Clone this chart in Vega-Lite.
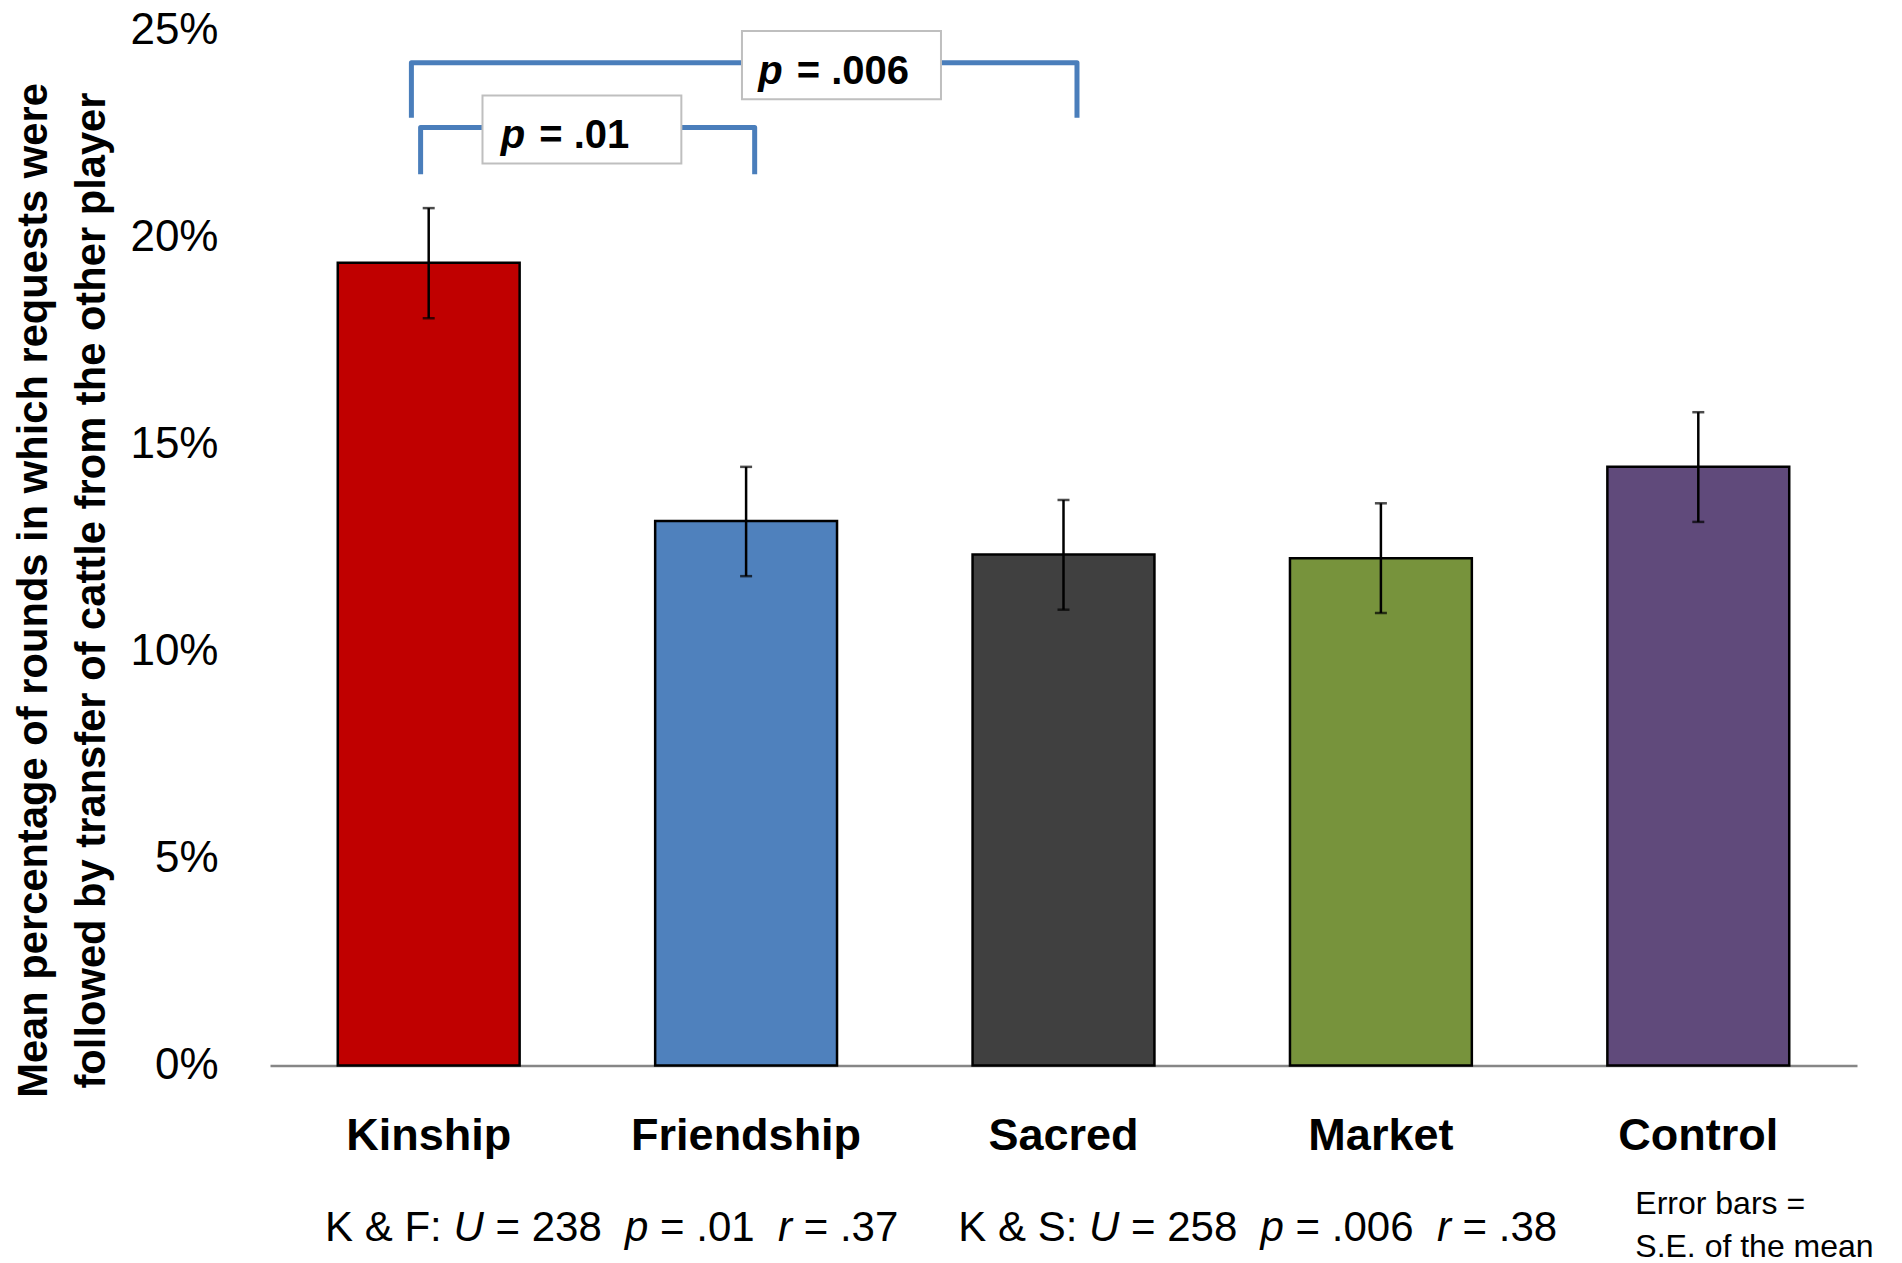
{
  "$schema": "https://vega.github.io/schema/vega-lite/v6.json",
  "width": 1587,
  "height": 1035,
  "autosize": "none",
  "padding": {"left": 270, "top": 30.5, "right": 45, "bottom": 197.5},
  "background": "white",
  "config": {"view": {"stroke": null}},
  "datasets": {
    "bars": [
      {"condition": "Kinship", "mean": 19.39, "lo": 18.05, "hi": 20.71},
      {"condition": "Friendship", "mean": 13.15, "lo": 11.82, "hi": 14.46},
      {"condition": "Sacred", "mean": 12.34, "lo": 11.01, "hi": 13.66},
      {"condition": "Market", "mean": 12.25, "lo": 10.93, "hi": 13.58},
      {"condition": "Control", "mean": 14.46, "lo": 13.13, "hi": 15.78}
    ],
    "brackets": [
      {"pair": "K-S", "step": 1, "pos": 0.4455, "pct": 22.89},
      {"pair": "K-S", "step": 2, "pos": 0.4455, "pct": 24.22},
      {"pair": "K-S", "step": 3, "pos": 2.5425, "pct": 24.22},
      {"pair": "K-S", "step": 4, "pos": 2.5425, "pct": 22.89},
      {"pair": "K-F", "step": 1, "pos": 0.4745, "pct": 21.53},
      {"pair": "K-F", "step": 2, "pos": 0.4745, "pct": 22.66},
      {"pair": "K-F", "step": 3, "pos": 1.527, "pct": 22.66},
      {"pair": "K-F", "step": 4, "pos": 1.527, "pct": 21.53}
    ],
    "boxes": [
      {"pair": "K-F", "pos": 0.6695, "pos2": 1.296, "pct": 21.79, "pct2": 23.43},
      {"pair": "K-S", "pos": 1.487, "pos2": 2.114, "pct": 23.34, "pct2": 24.99}
    ],
    "boxItalic": [
      {"text": "p", "pos": 0.727, "pct": 22.15},
      {"text": "p", "pos": 1.5385, "pct": 23.70}
    ],
    "boxPlain": [
      {"text": "= .01", "pos": 0.848, "pct": 22.15},
      {"text": "= .006", "pos": 1.6594, "pct": 23.70}
    ],
    "statsPlain": [
      {"text": "K & F:", "pos": 0.1736, "pct": -4.24},
      {"text": "= 238", "pos": 0.7105, "pct": -4.24},
      {"text": "= .01", "pos": 1.229, "pct": -4.24},
      {"text": "= .37", "pos": 1.6815, "pct": -4.24},
      {"text": "K & S:", "pos": 2.1686, "pct": -4.24},
      {"text": "= 258", "pos": 2.7127, "pct": -4.24},
      {"text": "= .006", "pos": 3.2313, "pct": -4.24},
      {"text": "= .38", "pos": 3.7574, "pct": -4.24}
    ],
    "statsItalic": [
      {"text": "U", "pos": 0.5781, "pct": -4.24},
      {"text": "p", "pos": 1.1188, "pct": -4.24},
      {"text": "r", "pos": 1.6005, "pct": -4.24},
      {"text": "U", "pos": 2.5803, "pct": -4.24},
      {"text": "p", "pos": 3.121, "pct": -4.24},
      {"text": "r", "pos": 3.6765, "pct": -4.24}
    ],
    "note": [
      {"text": "Error bars =", "pos": 4.3015, "pct": -3.58},
      {"text": "S.E. of the mean", "pos": 4.3015, "pct": -4.62}
    ]
  },
  "layer": [
    {
      "data": {"name": "bars"},
      "encoding": {
        "x": {
          "field": "condition", "type": "nominal", "sort": null,
          "scale": {"paddingInner": 0.427, "paddingOuter": 0.2135},
          "axis": {
            "title": null, "labelAngle": 0, "ticks": false, "tickSize": 0,
            "domainColor": "#868686", "domainWidth": 2.5,
            "labelFont": "Liberation Sans", "labelFontWeight": "bold",
            "labelFontSize": 45, "labelColor": "black", "labelPadding": 48,
            "labelLimit": 0
          }
        }
      },
      "layer": [
        {
          "mark": {"type": "bar", "stroke": "black", "strokeWidth": 2.5},
          "encoding": {
            "y": {
              "field": "mean", "type": "quantitative",
              "scale": {"domain": [0, 25], "nice": false},
              "axis": {
                "values": [0, 5, 10, 15, 20, 25],
                "labelExpr": "datum.value + '%'",
                "grid": false, "domain": false, "ticks": false, "tickSize": 0,
                "labelFont": "Liberation Sans", "labelFontSize": 44,
                "labelColor": "black", "labelPadding": 52,
                "title": ["Mean percentage of rounds in which requests were", "followed by transfer of cattle from the other player"],
                "titleFont": "Liberation Sans", "titleFontWeight": "bold",
                "titleFontSize": 41.7, "titleColor": "black", "titleLineHeight": 58,
                "titleAngle": -90, "titleAlign": "center", "titleBaseline": "alphabetic",
                "titleX": -224, "titleY": 559.5
              }
            },
            "color": {
              "field": "condition", "type": "nominal",
              "scale": {
                "domain": ["Kinship", "Friendship", "Sacred", "Market", "Control"],
                "range": ["#C00000", "#4F81BD", "#404040", "#77933C", "#604A7B"]
              },
              "legend": null
            }
          }
        },
        {
          "mark": {"type": "rule", "color": "black", "strokeWidth": 2.5},
          "encoding": {
            "y": {"field": "lo", "type": "quantitative"},
            "y2": {"field": "hi"}
          }
        },
        {
          "mark": {"type": "tick", "color": "black", "size": 12, "thickness": 2.5},
          "encoding": {
            "y": {"field": "lo", "type": "quantitative"}
          }
        },
        {
          "mark": {"type": "tick", "color": "black", "size": 12, "thickness": 2.5},
          "encoding": {
            "y": {"field": "hi", "type": "quantitative"}
          }
        }
      ]
    },
    {
      "encoding": {
        "x": {"field": "pos", "type": "quantitative", "scale": {"domain": [0, 5], "nice": false, "zero": false}, "axis": null},
        "y": {"field": "pct", "type": "quantitative"}
      },
      "layer": [
        {
          "data": {"name": "brackets"},
          "mark": {"type": "line", "color": "#4A7EBB", "strokeWidth": 5, "strokeJoin": "round", "strokeCap": "butt"},
          "encoding": {
            "detail": {"field": "pair"},
            "order": {"field": "step", "type": "quantitative"}
          }
        },
        {
          "data": {"name": "boxes"},
          "mark": {"type": "rect", "fill": "white", "stroke": "#BFBFBF", "strokeWidth": 2},
          "encoding": {
            "x2": {"field": "pos2"},
            "y2": {"field": "pct2"}
          }
        },
        {
          "data": {"name": "boxItalic"},
          "mark": {"type": "text", "align": "left", "baseline": "alphabetic", "font": "Liberation Sans", "fontSize": 40, "fontWeight": "bold", "fontStyle": "italic", "color": "black"},
          "encoding": {"text": {"field": "text"}}
        },
        {
          "data": {"name": "boxPlain"},
          "mark": {"type": "text", "align": "left", "baseline": "alphabetic", "font": "Liberation Sans", "fontSize": 40, "fontWeight": "bold", "color": "black"},
          "encoding": {"text": {"field": "text"}}
        },
        {
          "data": {"name": "statsPlain"},
          "mark": {"type": "text", "align": "left", "baseline": "alphabetic", "font": "Liberation Sans", "fontSize": 42, "color": "black"},
          "encoding": {"text": {"field": "text"}}
        },
        {
          "data": {"name": "statsItalic"},
          "mark": {"type": "text", "align": "left", "baseline": "alphabetic", "font": "Liberation Sans", "fontSize": 42, "fontStyle": "italic", "color": "black"},
          "encoding": {"text": {"field": "text"}}
        },
        {
          "data": {"name": "note"},
          "mark": {"type": "text", "align": "left", "baseline": "alphabetic", "font": "Liberation Sans", "fontSize": 32, "color": "black"},
          "encoding": {"text": {"field": "text"}}
        }
      ]
    }
  ],
  "resolve": {"scale": {"x": "independent"}}
}
